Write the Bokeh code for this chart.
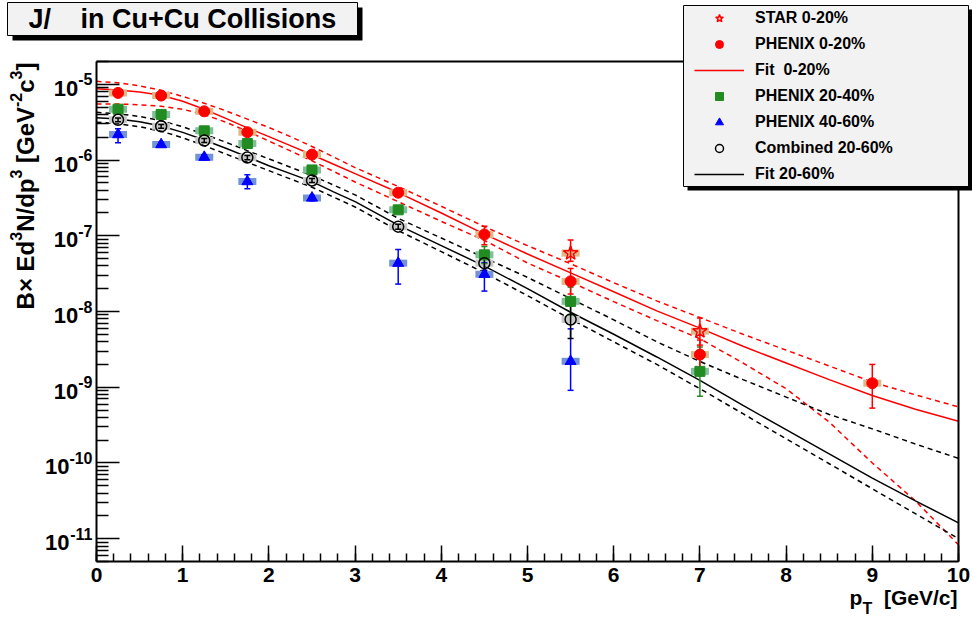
import math
import numpy as np
from bokeh.plotting import figure
from bokeh.models import (FixedTicker, CustomJSTickFormatter, Label, BoxAnnotation,
                          Legend, LegendItem, Range1d, LinearAxis, LogAxis)
from bokeh.core.properties import value
from bokeh.embed import file_html
from bokeh.resources import INLINE

# ---------------- data ----------------
x_major = [0, 1, 2, 3, 4, 5, 6, 7, 8, 9, 10]
y_major = [1e-11, 1e-10, 1e-9, 1e-8, 1e-7, 1e-6, 1e-5]
x_lim = (0, 10)
y_lim = (5e-12, 2e-5)

star_x = [5.5, 7.0]
star_y = [5.9e-8, 5.5e-9]
star_hi = [8.8e-8, 8.2e-9]
star_lo = [4.6e-8, 3.6e-9]

red_x = [0.25, 0.75, 1.25, 1.75, 2.5, 3.5, 4.5, 5.5, 7.0, 9.0]
red_y = [7.7e-6, 7.1e-6, 4.4e-6, 2.33e-6, 1.18e-6, 3.7e-7, 1.04e-7, 2.5e-8, 2.7e-9, 1.13e-9]
red_hi = [8.0e-6, 7.4e-6, 4.6e-6, 2.45e-6, 1.25e-6, 4.0e-7, 1.34e-7, 3.7e-8, 4.2e-9, 2.0e-9]
red_lo = [7.4e-6, 6.8e-6, 4.2e-6, 2.2e-6, 1.11e-6, 3.4e-7, 7.6e-8, 1.7e-8, 1.5e-9, 5.3e-10]

green_x = [0.25, 0.75, 1.25, 1.75, 2.5, 3.5, 4.5, 5.5, 7.0]
green_y = [4.7e-6, 4.0e-6, 2.43e-6, 1.65e-6, 7.4e-7, 2.2e-7, 5.6e-8, 1.36e-8, 1.62e-9]
green_hi = [4.95e-6, 4.2e-6, 2.55e-6, 1.74e-6, 7.8e-7, 2.35e-7, 7.2e-8, 2.1e-8, 3.4e-9]
green_lo = [4.45e-6, 3.8e-6, 2.31e-6, 1.56e-6, 7.0e-7, 2.05e-7, 4.3e-8, 9.0e-9, 7.6e-10]

blue_x = [0.25, 0.75, 1.25, 1.75, 2.5, 3.5, 4.5, 5.5]
blue_y = [2.17e-6, 1.6e-6, 1.09e-6, 5.2e-7, 3.16e-7, 4.35e-8, 3.1e-8, 2.2e-9]
blue_hi = [2.58e-6, 1.7e-6, 1.17e-6, 6.37e-7, 3.4e-7, 6.6e-8, 4.4e-8, 5.9e-9]
blue_lo = [1.69e-6, 1.5e-6, 1.01e-6, 4.17e-7, 2.9e-7, 2.3e-8, 1.86e-8, 9.1e-10]

comb_x = [0.25, 0.75, 1.25, 1.75, 2.5, 3.5, 4.5, 5.5]
comb_y = [3.4e-6, 2.79e-6, 1.81e-6, 1.08e-6, 5.37e-7, 1.32e-7, 4.35e-8, 7.85e-9]
comb_hi = [3.6e-6, 2.95e-6, 1.92e-6, 1.15e-6, 5.7e-7, 1.42e-7, 5.3e-8, 1.2e-8]
comb_lo = [3.2e-6, 2.63e-6, 1.70e-6, 1.01e-6, 5.05e-7, 1.22e-7, 3.5e-8, 4.4e-9]

fit_pt = [0, 0.25, 0.5, 0.75, 1, 1.25, 1.5, 1.75, 2, 2.25, 2.5, 2.75, 3,
          3.5, 4, 4.5, 5, 5.5, 6, 6.5, 7, 7.5, 8, 8.5, 9, 9.5, 10]
fit_red = [8.71e-6, 8.41e-6, 7.94e-6, 7.16e-6, 5.96e-6, 4.68e-6, 3.55e-6, 2.66e-6, 2.04e-6, 1.55e-6,
           1.175e-6, 8.81e-7, 6.61e-7,
           3.72e-7, 2.0e-7, 1.05e-7, 5.75e-8, 3.24e-8, 1.82e-8, 1.02e-8, 6.03e-9, 3.47e-9, 2.09e-9,
           1.26e-9, 7.76e-10, 5.13e-10, 3.55e-10]
fit_red_up = [1.096e-5, 1.047e-5, 9.55e-6, 8.32e-6, 6.92e-6, 5.62e-6, 4.47e-6, 3.47e-6, 2.69e-6, 2.04e-6,
              1.51e-6, 1.10e-6, 7.94e-7,
              4.47e-7, 2.45e-7, 1.32e-7, 7.41e-8, 4.27e-8, 2.40e-8, 1.38e-8, 8.32e-9, 5.01e-9, 3.09e-9,
              1.91e-9, 1.17e-9, 7.94e-10, 5.50e-10]
fit_red_dn = [5.50e-6, 5.50e-6, 5.37e-6, 5.13e-6, 4.68e-6, 3.98e-6, 3.16e-6, 2.40e-6, 1.78e-6, 1.32e-6,
              9.77e-7, 7.08e-7, 5.13e-7,
              2.82e-7, 1.55e-7, 8.71e-8, 4.37e-8, 2.45e-8, 1.35e-8, 7.59e-9, 4.37e-9, 2.09e-9, 9.55e-10,
              3.47e-10, 1.0e-10, 3.16e-11, 8.32e-12]
fit_blk = [3.63e-6, 3.47e-6, 3.20e-6, 2.82e-6, 2.32e-6, 1.84e-6, 1.43e-6, 1.10e-6, 8.41e-7, 6.61e-7,
           5.19e-7, 3.80e-7, 2.82e-7,
           1.38e-7, 7.41e-8, 3.98e-8, 2.0e-8, 9.77e-9, 5.01e-9, 2.51e-9, 1.23e-9, 5.75e-10, 2.75e-10,
           1.32e-10, 6.31e-11, 3.16e-11, 1.62e-11]
fit_blk_up = [4.27e-6, 4.07e-6, 3.76e-6, 3.31e-6, 2.75e-6, 2.19e-6, 1.72e-6, 1.33e-6, 1.035e-6, 8.04e-7,
              6.24e-7, 4.68e-7, 3.47e-7,
              1.70e-7, 9.33e-8, 5.13e-8, 2.82e-8, 1.48e-8, 7.76e-9, 3.98e-9, 2.19e-9, 1.26e-9, 7.41e-10,
              4.37e-10, 2.82e-10, 1.78e-10, 1.15e-10]
fit_blk_dn = [3.16e-6, 3.02e-6, 2.75e-6, 2.40e-6, 1.97e-6, 1.55e-6, 1.20e-6, 9.33e-7, 7.24e-7, 5.62e-7,
              4.37e-7, 3.24e-7, 2.40e-7,
              1.17e-7, 6.17e-8, 3.24e-8, 1.62e-8, 7.94e-9, 3.98e-9, 2.0e-9, 9.55e-10, 4.47e-10, 2.09e-10,
              9.77e-11, 4.57e-11, 2.14e-11, 1.0e-11]

legend_labels = ["STAR 0-20%", "PHENIX 0-20%", "Fit  0-20%", "PHENIX 20-40%",
                 "PHENIX 40-60%", "Combined 20-60%", "Fit 20-60%"]

# ---------------- geometry (page pixels) ----------------
W, H = 972, 617
PX0, PX1 = 96, 958      # pixel x of x_lim[0], x_lim[1]
PY0, PY1 = 561, 61      # pixel y of y_lim[0], y_lim[1]
ppu = (PX1 - PX0) / (x_lim[1] - x_lim[0])
ly0, ly1 = math.log10(y_lim[0]), math.log10(y_lim[1])
ppd = (PY0 - PY1) / (ly1 - ly0)
xr = Range1d(x_lim[0] - PX0 / ppu, x_lim[1] + (W - PX1) / ppu)
yr = Range1d(10 ** (ly0 - (H - PY0) / ppd), 10 ** (ly1 + PY1 / ppd))

p = figure(width=W, height=H, y_axis_type="log", x_range=xr, y_range=yr,
           output_backend="svg", toolbar_location=None,
           min_border=0, min_border_left=0, min_border_right=0, min_border_top=0, min_border_bottom=0)
p.background_fill_color = "white"
p.border_fill_color = "white"
p.grid.visible = False
p.outline_line_color = None

FONT = "Liberation Sans"
# Arial / Liberation Sans Bold advance widths (em) for text layout
AW = {'B': .722, '\u00d7': .584, ' ': .278, 'E': .667, 'd': .611, 'N': .722, '/': .278, 'p': .611,
      '[': .333, 'G': .778, 'e': .556, 'V': .667, '-': .333, 'c': .556, ']': .333}
def tw(s, size):
    return sum(AW.get(ch, .556) for ch in s) * size

x_minor = [round(0.2 * i, 1) for i in range(51)]
y_minor = [k * 10.0 ** e for e in range(-12, -4) for k in range(2, 10) if y_lim[0] <= k * 10.0 ** e <= y_lim[1]]
p.xaxis.ticker = FixedTicker(ticks=x_major, minor_ticks=x_minor)
p.yaxis.ticker = FixedTicker(ticks=y_major, minor_ticks=y_minor)
p.yaxis.formatter = CustomJSTickFormatter(code="return '';")
p.xaxis.fixed_location = y_lim[0]
p.yaxis.fixed_location = x_lim[0]
p.xaxis.bounds = x_lim
p.yaxis.bounds = y_lim
for ax in (p.xaxis[0], p.yaxis[0]):
    ax.axis_line_width = 2
    ax.axis_line_color = "black"
    ax.major_tick_out = 0
    ax.minor_tick_out = 0
    ax.major_tick_line_width = 1.5
    ax.minor_tick_line_width = 1.5
    ax.major_tick_line_color = "black"
    ax.minor_tick_line_color = "black"
    ax.major_label_text_font = FONT
    ax.major_label_text_font_style = "bold"
    ax.major_label_text_font_size = "21px"
    ax.major_label_text_color = "black"
p.xaxis.major_tick_in = 16
p.xaxis.minor_tick_in = 8
p.yaxis.major_tick_in = 23
p.yaxis.minor_tick_in = 12
p.xaxis.major_label_standoff = 6

# frame: top and right edges as tick-less axes
top_ax = LinearAxis(fixed_location=y_lim[1], bounds=x_lim, ticker=FixedTicker(ticks=[]),
                    axis_line_width=2, axis_line_color="black",
                    major_tick_line_color=None, minor_tick_line_color=None,
                    major_label_text_font_size="0px")
right_ax = LogAxis(fixed_location=x_lim[1], bounds=y_lim, ticker=FixedTicker(ticks=[]),
                   axis_line_width=2, axis_line_color="black",
                   major_tick_line_color=None, minor_tick_line_color=None,
                   major_label_text_font_size="0px")
p.add_layout(top_ax, "above")
p.add_layout(right_ax, "right")

# y tick labels: "10" with a raised exponent
exps = [str(int(round(math.log10(v)))) for v in y_major]
EXP_SIZE, BASE_SIZE = 16, 22
p.text(x=[x_lim[0]] * len(y_major), y=y_major, text=exps,
       x_offset=-4, y_offset=-5, text_align="right", text_baseline="middle",
       text_font=value(FONT), text_font_style="bold", text_font_size=value(f"{EXP_SIZE}px"), text_color="black")
p.text(x=[x_lim[0]] * len(y_major), y=y_major, text=["10"] * len(y_major),
       x_offset=[-4 - tw(e, EXP_SIZE) for e in exps], y_offset=4, text_align="right", text_baseline="middle",
       text_font=value(FONT), text_font_style="bold", text_font_size=value(f"{BASE_SIZE}px"), text_color="black")

# ---------------- fits ----------------
DASH = "5 4"
r_fit_red = p.line(fit_pt, fit_red, line_color="red", line_width=1.5)
p.line(fit_pt, fit_red_up, line_color="red", line_width=1.5, line_dash=DASH)
p.line(fit_pt, fit_red_dn, line_color="red", line_width=1.5, line_dash=DASH)
r_fit_blk = p.line(fit_pt, fit_blk, line_color="black", line_width=1.5)
p.line(fit_pt, fit_blk_up, line_color="black", line_width=1.5, line_dash=DASH)
p.line(fit_pt, fit_blk_dn, line_color="black", line_width=1.5, line_dash=DASH)

# ---------------- systematic boxes ----------------
def sysbox(xs, ys, color):
    p.rect(xs, ys, width=18, height=7, width_units="screen", height_units="screen",
           fill_color=color, line_color=None)

sysbox(red_x, red_y, "#deb887")
sysbox(star_x, star_y, "#deb887")
sysbox(green_x, green_y, "#80c098")
sysbox(blue_x, blue_y, "#7393d6")
sysbox(comb_x, comb_y, "#c8c8c8")

# ---------------- error bars ----------------
def errbars(xs, lo, hi, color):
    p.segment(xs, lo, xs, hi, line_color=color, line_width=1.5)
    p.scatter(xs, hi, marker="dash", size=6, line_color=color, line_width=1.5)
    p.scatter(xs, lo, marker="dash", size=6, line_color=color, line_width=1.5)

errbars(blue_x, blue_lo, blue_hi, "blue")
errbars(green_x, green_lo, green_hi, "#228B22")
errbars(comb_x, comb_lo, comb_hi, "black")
errbars(red_x, red_lo, red_hi, "red")
errbars(star_x, star_lo, star_hi, "red")

# ---------------- markers ----------------
r_blue = p.scatter(blue_x, blue_y, marker="triangle", size=11, fill_color="blue", line_color="blue")
r_green = p.scatter(green_x, green_y, marker="square", size=10, fill_color="#228B22", line_color="#228B22")
r_comb = p.scatter(comb_x, comb_y, marker="circle", size=11, fill_color=None, line_color="black", line_width=1.5)
r_red = p.scatter(red_x, red_y, marker="circle", size=11, fill_color="red", line_color="red")
r_star = p.scatter(star_x, star_y, marker="star", size=15, fill_color=None, line_color="red", line_width=1.5)

# ---------------- screen placement helpers (page px -> screen units, y up from bottom) ----------------
def sx(px):
    return px
def sy(py):
    return H - py

def box(l, t, r, b, fill, line):
    p.add_layout(BoxAnnotation(left=sx(l), right=sx(r), top=sy(t), bottom=sy(b),
                               left_units="screen", right_units="screen",
                               top_units="screen", bottom_units="screen",
                               fill_color=fill, fill_alpha=1,
                               line_color=line, line_width=1, line_alpha=1 if line else 0))

def label(txt, px, py, size, align="left", angle=0.0, style="bold"):
    p.add_layout(Label(x=sx(px), y=sy(py), x_units="screen", y_units="screen", text=txt, angle=angle,
                       text_font=FONT, text_font_style=style, text_font_size=f"{size}px",
                       text_align=align, text_baseline="middle", text_color="black"))

# ---------------- title box ----------------
box(12, 7, 362, 40, "black", None)
box(7, 2, 357, 35, "#f2f2f2", "black")
TITLE_SIZE = 27
label("J/", 28, 28.3 - 0.35 * TITLE_SIZE, TITLE_SIZE)
label("in Cu+Cu Collisions", 80, 28.3 - 0.35 * TITLE_SIZE, TITLE_SIZE)

# ---------------- legend ----------------
box(687, 9, 972, 190, "black", None)
box(683, 5, 968, 186, "#f2f2f2", "black")
ROW_H, ROW_GAP = 20, 6
leg_top = 18.3 - ROW_H / 2
leg_h = len(legend_labels) * ROW_H + (len(legend_labels) - 1) * ROW_GAP
renderers = [r_star, r_red, r_fit_red, r_green, r_blue, r_comb, r_fit_blk]
legend = Legend(items=[LegendItem(label=l, renderers=[r]) for l, r in zip(legend_labels, renderers)],
                location=(sx(694), sy(leg_top + leg_h)), orientation="vertical", padding=0, margin=0,
                spacing=ROW_GAP, glyph_width=50, glyph_height=ROW_H, label_height=ROW_H, label_standoff=11,
                label_text_font=FONT, label_text_font_style="bold", label_text_font_size="16px",
                label_text_color="black", border_line_color=None, background_fill_alpha=0)
p.add_layout(legend)

# ---------------- y axis title (rotated, pieces with superscripts), from the top end down ----------------
MAIN, SUP = 24, 16
ylab = [("]", False, 0), ("3", True, 0), ("c", False, 0), ("-2", True, 0), ("[GeV", False, AW[' ']),
        ("3", True, 0), ("N/dp", False, 0), ("3", True, 0), ("B\u00d7 Ed", False, 0)]
ypos = 62.0
for txt, sup, gap in ylab:
    size = SUP if sup else MAIN
    label(txt, 15 if sup else 25, ypos, size, align="right", angle=np.pi / 2)
    ypos += tw(txt, size) + gap * MAIN

# ---------------- x axis title ----------------
XL = 21
label("[GeV/c]", 957, 604 - 0.35 * XL, XL, align="right")
label("p", 849, 604 - 0.35 * XL, XL)
label("T", 862, 614 - 0.35 * 16, 16)

open("out.html", "w", encoding="utf-8").write(file_html(p, INLINE))
